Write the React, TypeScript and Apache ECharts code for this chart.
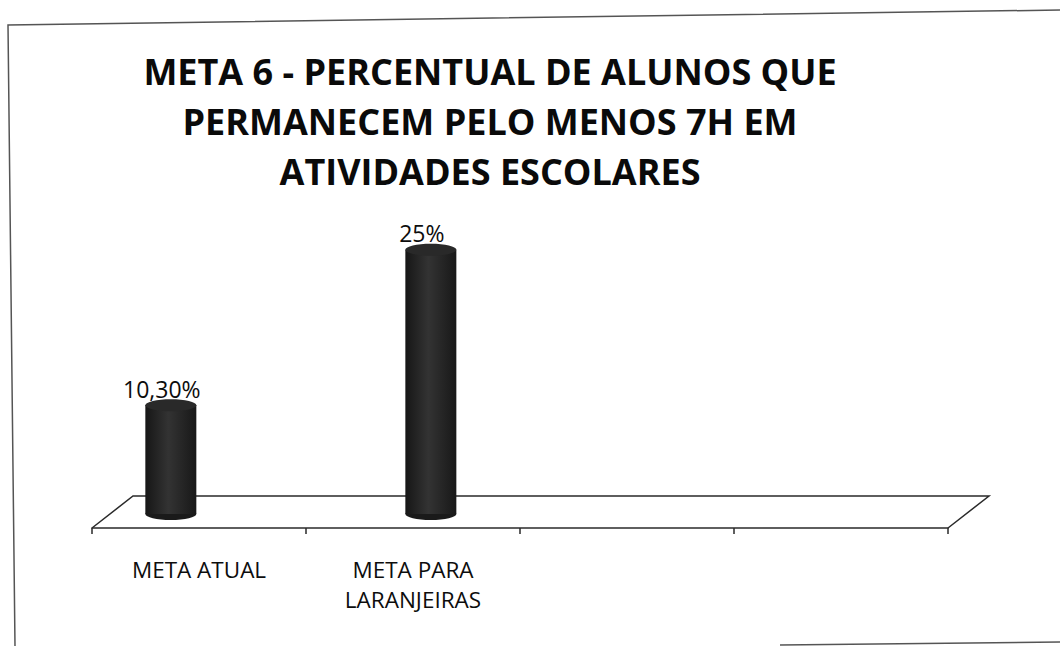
import React, { useEffect, useRef } from "react";
import * as echarts from "echarts";

const titleLines = [
  "META 6 - PERCENTUAL DE ALUNOS QUE",
  "PERMANECEM PELO MENOS 7H EM",
  "ATIVIDADES ESCOLARES",
];
const categories = ["META ATUAL", "META PARA\nLARANJEIRAS", "", ""];
const values = [10.3, 25, null, null];
const valueLabels = ["10,30%", "25%", "", ""];

const GRID_LEFT = 92;
const GRID_RIGHT = 112;
const GRID_BOTTOM = 118;
const DEPTH_X = 41;
const DEPTH_Y = 32;

export default function App() {
  const ref = useRef<HTMLDivElement>(null);
  useEffect(() => {
    if (!ref.current) return;
    const chart = echarts.init(ref.current, undefined, { renderer: "svg" });
    const W = 1060;
    const H = 646;
    const axisY = H - GRID_BOTTOM;
    const frontL = GRID_LEFT;
    const frontR = W - GRID_RIGHT;

    const cylFill = new echarts.graphic.LinearGradient(0, 0, 1, 0, [
      { offset: 0, color: "#161616" },
      { offset: 0.45, color: "#333333" },
      { offset: 1, color: "#181818" },
    ]);

    chart.setOption({
      animation: false,
      backgroundColor: "#ffffff",
      textStyle: { fontFamily: "Open Sans" },
      grid: { left: GRID_LEFT, right: GRID_RIGHT, bottom: GRID_BOTTOM, top: 211 },
      xAxis: {
        type: "category",
        data: categories,
        boundaryGap: true,
        axisLine: { show: true, lineStyle: { color: "#2a2a2a", width: 1.5 } },
        axisTick: { show: true, length: 6, lineStyle: { color: "#2a2a2a", width: 1.5 } },
        axisLabel: {
          color: "#0d0d0d",
          fontSize: 22.5,
          lineHeight: 30,
          margin: 26,
          fontFamily: "Open Sans",
          interval: 0,
        },
      },
      yAxis: { type: "value", min: 0, max: 30, show: false, splitLine: { show: false } },
      graphic: [
        {
          type: "polyline",
          shape: {
            points: [
              [frontL, axisY],
              [frontL + DEPTH_X, axisY - DEPTH_Y],
              [frontR + DEPTH_X, axisY - DEPTH_Y],
              [frontR, axisY],
            ],
          },
          style: { stroke: "#2a2a2a", lineWidth: 1.5, fill: "none" },
          z: 0,
        },
        {
          type: "polyline",
          shape: { points: [[1060, 10], [8, 25], [15, 646]] },
          style: { stroke: "#555", lineWidth: 1.5, fill: "none" },
        },
        {
          type: "line",
          shape: { x1: 780, y1: 645, x2: 1060, y2: 642 },
          style: { stroke: "#555", lineWidth: 1.5 },
        },
        ...titleLines.map((t, i) => ({
          type: "text",
          x: 490,
          y: 71 + i * 50,
          style: {
            text: t,
            font: "bold 36px 'Open Sans'",
            fill: "#0a0a0a",
            textAlign: "center",
            textVerticalAlign: "middle",
          },
        })),
      ],
      series: [
        {
          type: "custom",
          data: values.map((v, i) => [i, v]),
          z: 5,
          renderItem: (params: any, api: any) => {
            const v = api.value(1);
            if (v === null || v === undefined || isNaN(v)) return null;
            const idx = api.value(0);
            const base = api.coord([idx, 0]);
            const top = api.coord([idx, v]);
            const cx = base[0] + (base[0] - 330) * 0.215;
            const baseY = base[1] - 14;
            const topY = top[1] - 14;
            const rx = 25.5;
            const ry = 6;
            return {
              type: "group",
              children: [
                {
                  type: "ellipse",
                  shape: { cx, cy: baseY, rx, ry },
                  style: { fill: "#1a1a1a" },
                },
                {
                  type: "rect",
                  shape: { x: cx - rx, y: topY, width: rx * 2, height: baseY - topY },
                  style: { fill: cylFill },
                },
                {
                  type: "ellipse",
                  shape: { cx, cy: topY, rx, ry },
                  style: { fill: "#292929" },
                },
                {
                  type: "text",
                  x: cx - 9,
                  y: topY - 5,
                  style: {
                    text: valueLabels[idx],
                    font: "23px 'Open Sans'",
                    fill: "#0d0d0d",
                    textAlign: "center",
                    textVerticalAlign: "bottom",
                  },
                },
              ],
            };
          },
        },
      ],
    });
    return () => chart.dispose();
  }, []);
  return (
    <div
      ref={ref}
      style={{ position: "fixed", left: 0, top: 0, width: 1060, height: 646 }}
    />
  );
}
